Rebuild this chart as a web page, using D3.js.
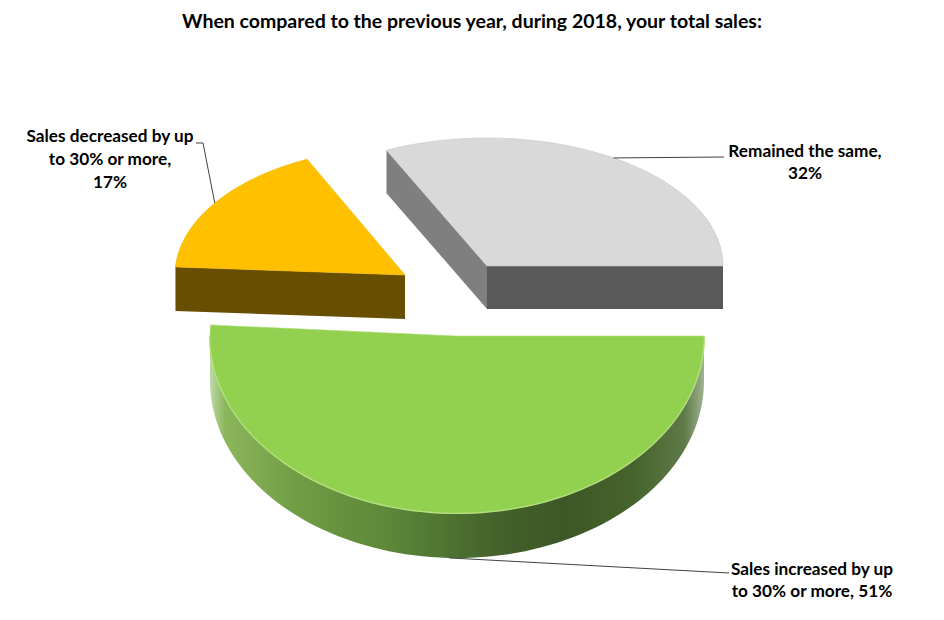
<!DOCTYPE html>
<html><head><meta charset="utf-8">
<script src="https://cdn.jsdelivr.net/npm/d3@7/dist/d3.min.js"></script>
<style>body{margin:0;background:#fff}svg{display:block}</style>
</head><body>
<svg id="chart" width="944" height="620"></svg>
<script>
// ---------- data ----------
const title = "When compared to the previous year, during 2018, your total sales:";
const categories = ["Sales decreased by up to 30% or more", "Remained the same", "Sales increased by up to 30% or more"];
const values = [17, 32, 51];
const labelLines = [["Sales decreased by up", "to 30% or more,"], ["Remained the same,"], ["Sales increased by up", "to 30% or more,"]];
const pctOnNewLine = [true, true, false];

// ---------- layout / style ----------
const W = 944, H = 620;
const firstSliceDeg = -86.4;
const geom = [
  {cx: 405, cy: 275, rx: 230, ry: 128, depth: 44},
  {cx: 487, cy: 266, rx: 236, ry: 128, depth: 43},
  {cx: 457, cy: 336, rx: 247, ry: 177, depth: 45}
];
const styles = [
  {top: "#ffc000", side: "#684e00", sideLight: "#7a5c00", edge: "#f2b600"},
  {top: "#d9d9d9", side: "#595959", sideLight: "#7f7f7f", edge: "#c4c4c4"},
  {top: "#92d050", side: "url(#greenRim)", sideLight: "#6f9c44", edge: "#b5e07f"}
];
const greenStops = [[0, "#c0d8a8"], [0.03, "#8cb65c"], [0.18, "#6f9c44"], [0.38, "#5a8538"], [0.58, "#43622a"], [0.72, "#3d5726"], [0.86, "#46642d"], [0.96, "#5e7a48"], [1, "#9fb390"]];
const labelPos = [{x: 110, y: 142, lh: 23}, {x: 805, y: 157, lh: 22}, {x: 812, y: 575, lh: 22}];
const leaderStart = [[[196, 143], [203, 143]], [[724, 157]], [[729, 573]]];
const anchorOnBottom = [false, false, true];
const drawOrder = [1, 0, 2];
const fontFamily = "Lato, 'Open Sans', 'Liberation Sans', sans-serif";

const svg = d3.select("#chart");
const defs = svg.append("defs");
const g2 = geom[2];
const grad = defs.append("linearGradient").attr("id", "greenRim")
  .attr("gradientUnits", "userSpaceOnUse")
  .attr("x1", g2.cx - g2.rx).attr("x2", g2.cx + g2.rx).attr("y1", 0).attr("y2", 0);
grad.selectAll("stop").data(greenStops).join("stop")
  .attr("offset", d => d[0]).attr("stop-color", d => d[1]);

const rad = Math.PI / 180;
const pie = d3.pie().sort(null).value(d => d)
  .startAngle(firstSliceDeg * rad).endAngle(firstSliceDeg * rad + 2 * Math.PI);
const arcs = pie(values);

const pt = (g, a, dz = 0) => [g.cx + g.rx * Math.sin(a), g.cy - g.ry * Math.cos(a) + dz];
const samples = (a0, a1) => { const n = Math.max(2, Math.ceil(Math.abs(a1 - a0) / (Math.PI / 90))); return d3.range(n + 1).map(i => a0 + (a1 - a0) * i / n); };
const line = d3.line();

const layer = svg.append("g");
drawOrder.forEach(i => {
  const a = arcs[i], g = geom[i], s = styles[i];
  const sg = layer.append("g").attr("class", "slice");
  // radial side faces
  [[a.startAngle, a.startAngle - Math.PI / 2], [a.endAngle, a.endAngle + Math.PI / 2]].forEach(([ang, nrm]) => {
    if (Math.cos(nrm) < -0.01) {
      const c = [g.cx, g.cy], r = pt(g, ang);
      const poly = [c, r, [r[0], r[1] + g.depth], [c[0], c[1] + g.depth]];
      sg.append("path").attr("d", line(poly) + "Z")
        .attr("fill", Math.abs(Math.sin(nrm)) > 0.6 ? s.sideLight : s.side);
    }
  });
  // curved rim (front-facing part)
  let a0 = a.startAngle, a1 = a.endAngle;
  while (a0 < 0) { a0 += 2 * Math.PI; a1 += 2 * Math.PI; }
  [[Math.PI / 2, 1.5 * Math.PI], [2.5 * Math.PI, 3.5 * Math.PI]].forEach(([f0, f1]) => {
    const b0 = Math.max(a0, f0), b1 = Math.min(a1, f1);
    if (b1 > b0) {
      const angs = samples(b0, b1);
      const pts = angs.map(t => pt(g, t)).concat(angs.slice().reverse().map(t => pt(g, t, g.depth)));
      sg.append("path").attr("d", line(pts) + "Z").attr("fill", s.side);
      sg.append("path").attr("d", line(angs.map(t => pt(g, t)))).attr("fill", "none")
        .attr("stroke", s.edge).attr("stroke-width", 2.2);
    }
  });
  // top face
  const topPts = [[g.cx, g.cy]].concat(samples(a.startAngle, a.endAngle).map(t => pt(g, t)));
  sg.append("path").attr("d", line(topPts) + "Z").attr("fill", s.top)
    .attr("stroke", s.edge).attr("stroke-width", 0.6);
});

// leader lines
arcs.forEach((a, i) => {
  const g = geom[i];
  const mid = (a.startAngle + a.endAngle) / 2;
  const anc = pt(g, mid, anchorOnBottom[i] ? g.depth : 0);
  svg.append("path").attr("d", line(leaderStart[i].concat([anc])))
    .attr("fill", "none").attr("stroke", "#404040").attr("stroke-width", 1);
});

// labels
arcs.forEach((a, i) => {
  const lines = labelLines[i].slice();
  const pct = values[i] + "%";
  if (pctOnNewLine[i]) lines.push(pct); else lines[lines.length - 1] += " " + pct;
  const t = svg.append("text").attr("text-anchor", "middle")
    .attr("font-family", fontFamily).attr("font-weight", 700).attr("font-size", 17.2).attr("fill", "#000");
  lines.forEach((l, k) => t.append("tspan").attr("x", labelPos[i].x).attr("y", labelPos[i].y + k * labelPos[i].lh).text(l));
});

svg.append("text").attr("x", 472).attr("y", 28).attr("text-anchor", "middle")
  .attr("font-family", fontFamily).attr("font-weight", 700).attr("font-size", 19.5).attr("fill", "#000")
  .text(title);
</script>
</body></html>
